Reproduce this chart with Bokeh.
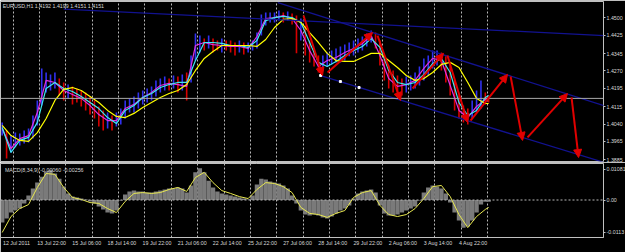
from bokeh.plotting import figure
from bokeh.models import (ColumnDataSource, FixedTicker, Span, Label, Arrow, NormalHead,
                          Range1d, Grid, PrintfTickFormatter, LinearAxis)
from bokeh.layouts import column
from bokeh.embed import file_html
from bokeh.resources import INLINE

FONT = "Liberation Sans"

# ---------------- data (H1 bars, index = bar number) ----------------
hl_bars = list(range(0, 444, 4)) + [443]
price_high = [1.4047, 1.4012, 1.3990, 1.4003, 1.3999, 1.4012, 1.4021, 1.4077, 1.4142, 1.4281,
              1.4263, 1.4255, 1.4263, 1.4237, 1.4220, 1.4211, 1.4203, 1.4194, 1.4185, 1.4177,
              1.4159, 1.4142, 1.4116, 1.4099, 1.4090, 1.4077, 1.4090, 1.4107, 1.4142, 1.4151,
              1.4159, 1.4177, 1.4185, 1.4194, 1.4203, 1.4229, 1.4237, 1.4246, 1.4237, 1.4250,
              1.4246, 1.4255, 1.4263, 1.4337, 1.4432, 1.4423, 1.4410, 1.4423, 1.4410, 1.4402,
              1.4410, 1.4402, 1.4402, 1.4393, 1.4402, 1.4393, 1.4393, 1.4402, 1.4436, 1.4514,
              1.4523, 1.4523, 1.4523, 1.4532, 1.4523, 1.4527, 1.4519, 1.4510, 1.4497, 1.4467,
              1.4402, 1.4367, 1.4337, 1.4337, 1.4350, 1.4358, 1.4367, 1.4376, 1.4384, 1.4393,
              1.4402, 1.4410, 1.4419, 1.4432, 1.4445, 1.4436, 1.4402, 1.4337, 1.4294, 1.4272,
              1.4250, 1.4237, 1.4246, 1.4250, 1.4263, 1.4289, 1.4324, 1.4337, 1.4358, 1.4358,
              1.4350, 1.4333, 1.4307, 1.4229, 1.4164, 1.4120, 1.4107, 1.4142, 1.4185, 1.4229,
              1.4177, 1.4159]
price_low = [1.3990, 1.3891, 1.3917, 1.3939, 1.3947, 1.3956, 1.3960, 1.3977, 1.4034, 1.4120,
             1.4177, 1.4185, 1.4194, 1.4164, 1.4142, 1.4151, 1.4125, 1.4133, 1.4116, 1.4099,
             1.4081, 1.4064, 1.4029, 1.4012, 1.4021, 1.4012, 1.4029, 1.4038, 1.4064, 1.4090,
             1.4090, 1.4107, 1.4125, 1.4133, 1.4142, 1.4159, 1.4177, 1.4185, 1.4185, 1.4194,
             1.4177, 1.4185, 1.4142, 1.4220, 1.4315, 1.4350, 1.4358, 1.4367, 1.4350, 1.4358,
             1.4350, 1.4358, 1.4350, 1.4337, 1.4350, 1.4341, 1.4350, 1.4358, 1.4367, 1.4423,
             1.4467, 1.4480, 1.4480, 1.4488, 1.4480, 1.4488, 1.4471, 1.4346, 1.4402, 1.4337,
             1.4307, 1.4289, 1.4263, 1.4272, 1.4289, 1.4298, 1.4307, 1.4307, 1.4315, 1.4333,
             1.4337, 1.4350, 1.4358, 1.4376, 1.4393, 1.4367, 1.4294, 1.4229, 1.4194, 1.4177,
             1.4164, 1.4164, 1.4177, 1.4185, 1.4194, 1.4207, 1.4229, 1.4250, 1.4281, 1.4294,
             1.4272, 1.4220, 1.4164, 1.4099, 1.4064, 1.4047, 1.4038, 1.4064, 1.4090, 1.4107,
             1.4125, 1.4133]

ma_bars = list(range(0, 444, 8)) + [443]
ma_yellow = [1.4034, 1.3990, 1.3969, 1.3965, 1.4003, 1.4064, 1.4142, 1.4190, 1.4198, 1.4185,
             1.4159, 1.4133, 1.4099, 1.4073, 1.4068, 1.4086, 1.4112, 1.4133, 1.4155, 1.4172,
             1.4185, 1.4211, 1.4272, 1.4324, 1.4354, 1.4380, 1.4380, 1.4380, 1.4380, 1.4376,
             1.4406, 1.4458, 1.4493, 1.4497, 1.4480, 1.4436, 1.4393, 1.4346, 1.4315, 1.4311,
             1.4311, 1.4328, 1.4346, 1.4346, 1.4315, 1.4285, 1.4250, 1.4229, 1.4237, 1.4263,
             1.4298, 1.4307, 1.4285, 1.4220, 1.4151, 1.4129, 1.4129]
ma_cyan = [1.4025, 1.3917, 1.3969, 1.3982, 1.4047, 1.4194, 1.4220, 1.4194, 1.4181, 1.4159,
           1.4133, 1.4107, 1.4068, 1.4042, 1.4099, 1.4120, 1.4155, 1.4172, 1.4198, 1.4211,
           1.4220, 1.4220, 1.4315, 1.4393, 1.4393, 1.4389, 1.4380, 1.4380, 1.4372, 1.4402,
           1.4488, 1.4501, 1.4506, 1.4501, 1.4480, 1.4393, 1.4307, 1.4289, 1.4311, 1.4337,
           1.4358, 1.4376, 1.4410, 1.4372, 1.4272, 1.4220, 1.4211, 1.4220, 1.4255, 1.4302,
           1.4324, 1.4263, 1.4133, 1.4077, 1.4099, 1.4155, 1.4164]
ma_magenta = [1.4021, 1.3934, 1.3977, 1.3990, 1.4090, 1.4229, 1.4220, 1.4185, 1.4168, 1.4151,
              1.4120, 1.4081, 1.4055, 1.4055, 1.4107, 1.4125, 1.4155, 1.4177, 1.4207, 1.4216,
              1.4211, 1.4203, 1.4380, 1.4393, 1.4384, 1.4380, 1.4376, 1.4376, 1.4367, 1.4419,
              1.4497, 1.4501, 1.4510, 1.4497, 1.4445, 1.4358, 1.4289, 1.4315, 1.4328, 1.4350,
              1.4367, 1.4389, 1.4423, 1.4337, 1.4237, 1.4203, 1.4211, 1.4229, 1.4281, 1.4324,
              1.4315, 1.4207, 1.4099, 1.4068, 1.4116, 1.4146, 1.4151]

macd_hist = [-0.0079, -0.0065, -0.0044, -0.0037, -0.0030, -0.0012, 0.0016, 0.0040, 0.0061, 0.0082,
             0.0100, 0.0104, 0.0093, 0.0075, 0.0047, 0.0023, 0.0012, 0.0009, 0.0005, 0.0002,
             -0.0005, -0.0012, -0.0023, -0.0033, -0.0044, -0.0047, -0.0037, -0.0002, 0.0019, 0.0030,
             0.0033, 0.0030, 0.0030, 0.0026, 0.0026, 0.0030, 0.0033, 0.0037, 0.0040, 0.0040,
             0.0044, 0.0040, 0.0026, 0.0051, 0.0097, 0.0111, 0.0097, 0.0068, 0.0044, 0.0030,
             0.0023, 0.0019, 0.0016, 0.0012, 0.0009, 0.0005, 0.0002, 0.0016, 0.0054, 0.0075,
             0.0072, 0.0065, 0.0061, 0.0058, 0.0051, 0.0040, 0.0016, -0.0012, -0.0037, -0.0051,
             -0.0054, -0.0051, -0.0054, -0.0061, -0.0065, -0.0058, -0.0047, -0.0037, -0.0030, -0.0019,
             0.0005, 0.0023, 0.0030, 0.0033, 0.0037, 0.0026, -0.0019, -0.0047, -0.0054, -0.0054,
             -0.0051, -0.0044, -0.0037, -0.0030, -0.0023, -0.0002, 0.0026, 0.0044, 0.0051, 0.0047,
             0.0040, 0.0023, -0.0009, -0.0044, -0.0072, -0.0097, -0.0093, -0.0072, -0.0044, -0.0016,
             -0.0006, -0.0006]
macd_signal = [-0.0114, -0.0058, -0.0030, -0.0016, 0.0044, 0.0093, 0.0090, 0.0044, 0.0009, 0.0002,
               -0.0009, -0.0012, -0.0030, -0.0044, -0.0005, 0.0023, 0.0026, 0.0023, 0.0026, 0.0037,
               0.0044, 0.0030, 0.0079, 0.0097, 0.0061, 0.0033, 0.0023, 0.0012, 0.0005, 0.0037,
               0.0061, 0.0058, 0.0047, 0.0026, -0.0026, -0.0047, -0.0051, -0.0061, -0.0047, -0.0037,
               0.0009, 0.0026, 0.0033, -0.0019, -0.0051, -0.0058, -0.0051, -0.0030, 0.0005, 0.0047,
               0.0051, 0.0012, -0.0051, -0.0097, -0.0058, -0.0033, -0.0026]

time_label_bars = list(range(0, 417, 32))
time_labels = ["12 Jul 2011", "13 Jul 22:00", "15 Jul 06:00", "18 Jul 14:00", "19 Jul 22:00",
               "21 Jul 06:00", "22 Jul 14:00", "25 Jul 22:00", "27 Jul 06:00", "28 Jul 14:00",
               "29 Jul 22:00", "2 Aug 06:00", "3 Aug 14:00", "4 Aug 22:00"]
grid_bars = list(range(10, 443, 24))
price_ticks = [1.4500, 1.4425, 1.4345, 1.4270, 1.4195, 1.4115, 1.4040, 1.3965, 1.3885]
macd_ticks = [0.01081, 0.0, -0.0113]
macd_tick_labels = ["0.01081", "0.00", "-0.0113"]
bid_price = 1.4151
header_text = "EURUSD,H1  1.4192 1.4199 1.4151 1.4151"
macd_text = "MACD(8,34,9) -0.00060 -0.00256"

# drawn objects (bar, price)
trend_x0 = [56, 251, 290]
trend_y0 = [1.4538, 1.4566, 1.4250]
trend_x1 = [548, 548, 548]
trend_y1 = [1.4423, 1.4120, 1.3874]
dots_x = [290, 308, 325]
dots_y = [1.4250, 1.4224, 1.4198]
arrow_x0 = [274.4, 296.3, 341.8, 373.7, 405.5, 426.5, 463.0, 478.4, 518.5]
arrow_y0 = [1.4510, 1.4263, 1.4423, 1.4194, 1.4337, 1.4055, 1.4246, 1.3982, 1.4155]
arrow_x1 = [291.7, 337.3, 362.8, 401.9, 423.8, 460.2, 473.9, 514.8, 524.9]
arrow_y1 = [1.4250, 1.4436, 1.4142, 1.4346, 1.4047, 1.4255, 1.3969, 1.4172, 1.3895]

# ---------------- styling ----------------
GRAY = "#c0c0c0"
TXT = "#d8d8d8"
FS = "5.3px"
xr = Range1d(-1.55, 547.6)


def base_fig(fh, yr, xloc, mb_top, mb_bottom):
    p = figure(frame_width=603, frame_height=fh, x_range=xr, y_range=yr,
               x_axis_location=xloc, y_axis_location="right",
               toolbar_location=None, output_backend="svg",
               min_border_left=0, min_border_right=22,
               min_border_top=mb_top, min_border_bottom=mb_bottom,
               background_fill_color="black", border_fill_color="black",
               outline_line_color=GRAY, outline_line_width=1)
    p.grid.visible = False
    p.add_layout(Grid(dimension=0, ticker=FixedTicker(ticks=grid_bars),
                      grid_line_color="#b8b8b8", grid_line_dash="2 2", grid_line_width=1))
    return p


def style_yaxis(ax, ticks):
    ax.ticker = FixedTicker(ticks=ticks)
    ax.axis_line_color = None
    ax.major_tick_line_color = GRAY
    ax.major_tick_out = 2
    ax.major_tick_in = 0
    ax.minor_tick_line_color = None
    ax.major_label_text_color = TXT
    ax.major_label_text_font = FONT
    ax.major_label_text_font_size = FS
    ax.major_label_standoff = 1


# ---- price panel ----
p1 = base_fig(160, Range1d(1.38778, 1.45706), None, 1, 1)
style_yaxis(p1.yaxis[0], price_ticks)
p1.yaxis[0].formatter = PrintfTickFormatter(format="%.4f")

p1.add_layout(Span(location=bid_price, dimension="width", line_color="#a8a8a8", line_width=1))

mids = [(h + l) / 2 for h, l in zip(price_high, price_low)]
bar_colors = ["#3030f0" if i == 0 or mids[i] >= mids[i - 1] else "#d80000" for i in range(len(mids))]
p1.segment(x0=hl_bars, y0=price_low, x1=hl_bars, y1=price_high, line_color=bar_colors, line_width=1.6)

p1.line(ma_bars, ma_magenta, line_color="#e030e0", line_width=1.2)
p1.line(ma_bars, ma_cyan, line_color="#40e8f0", line_width=1.2)
p1.line(ma_bars, ma_yellow, line_color="#ffff00", line_width=1.2)

p1.segment(x0=trend_x0, y0=trend_y0, x1=trend_x1, y1=trend_y1, line_color="#121290", line_width=1.3)
p1.scatter(dots_x, dots_y, size=2, marker="square", color="white")

asrc = ColumnDataSource(dict(x0=arrow_x0, y0=arrow_y0, x1=arrow_x1, y1=arrow_y1))
p1.add_layout(Arrow(x_start="x0", y_start="y0", x_end="x1", y_end="y1", source=asrc,
                    line_color="#e00000", line_width=2,
                    end=NormalHead(size=8, fill_color="#e00000", line_color="#e00000")))

p1.add_layout(Label(x=0.5, y=1.4562, text=header_text, text_baseline="top", text_align="left",
                    text_color=TXT, text_font=FONT, text_font_size=FS))
p1.add_layout(Label(x=550.5, y=bid_price, text="1.4151", text_baseline="middle", text_align="left",
                    text_color="black", text_font=FONT, text_font_size=FS,
                    background_fill_color="white"))

# ---- MACD panel ----
p2 = base_fig(74, Range1d(-0.01316, 0.01281), None, 1, 15)
style_yaxis(p2.yaxis[0], macd_ticks)
p2.yaxis[0].major_label_overrides = {t: s for t, s in zip(macd_ticks, macd_tick_labels)}

# empty spacer axis (gap between panel border and time-scale line)
spacer = LinearAxis(ticker=FixedTicker(ticks=[]), axis_line_color=None, major_tick_out=4,
                    major_tick_in=0, major_tick_line_color=None, minor_tick_line_color=None,
                    major_label_text_font_size="0px")
p2.add_layout(spacer, "below")

xticks = [b + 13 for b in time_label_bars]
xa = LinearAxis(ticker=FixedTicker(ticks=xticks))
xa.major_label_overrides = {t: s for t, s in zip(xticks, time_labels)}
xa.axis_line_color = GRAY
xa.major_tick_out = 0
xa.major_tick_in = 0
xa.minor_tick_line_color = None
xa.major_label_text_color = TXT
xa.major_label_text_font = FONT
xa.major_label_text_font_size = FS
xa.major_label_standoff = 2
p2.add_layout(xa, "below")

p2.vbar(x=hl_bars, top=macd_hist, bottom=0, width=4, fill_color="#7a7a7a", line_color=None)
p2.add_layout(Span(location=0, dimension="width", line_color="#b8b8b8", line_dash="2 2", line_width=1))
p2.line(ma_bars, macd_signal, line_color="#e8e850", line_width=1)
p2.add_layout(Label(x=2.5, y=0.01158, text=macd_text, text_baseline="top", text_align="left",
                    text_color=TXT, text_font=FONT, text_font_size=FS))

layout = column(p1, p2, spacing=0)
open("out.html", "w").write(file_html(layout, INLINE))
